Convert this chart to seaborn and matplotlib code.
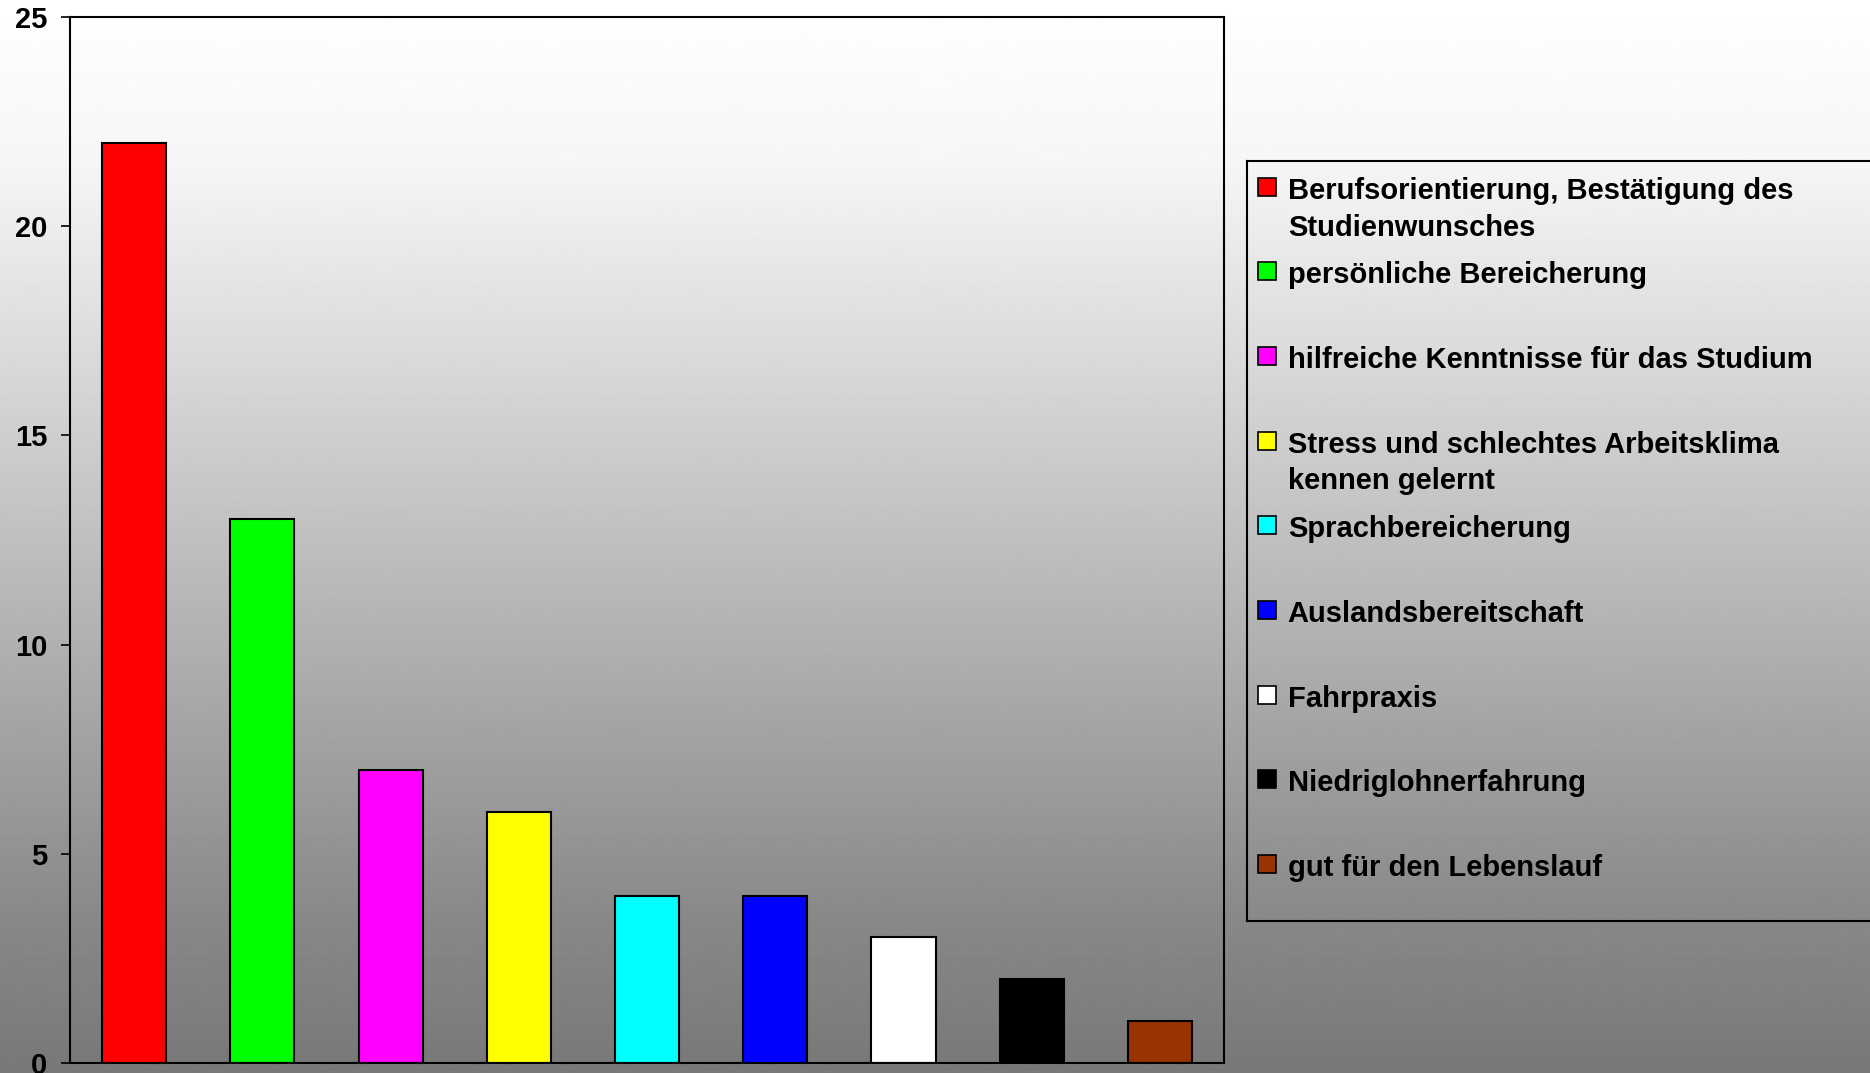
import matplotlib
matplotlib.use("Agg")
import matplotlib.pyplot as plt
import numpy as np
import seaborn as sns
from matplotlib.patches import Rectangle

categories = [
    "Berufsorientierung, Bestätigung des\nStudienwunsches",
    "persönliche Bereicherung",
    "hilfreiche Kenntnisse für das Studium",
    "Stress und schlechtes Arbeitsklima\nkennen gelernt",
    "Sprachbereicherung",
    "Auslandsbereitschaft",
    "Fahrpraxis",
    "Niedriglohnerfahrung",
    "gut für den Lebenslauf",
]
counts = [22, 13, 7, 6, 4, 4, 3, 2, 1]
colors = ["#ff0000", "#00ff00", "#ff00ff", "#ffff00", "#00ffff",
          "#0000ff", "#ffffff", "#000000", "#993300"]
y_ticks = [0, 5, 10, 15, 20, 25]

sns.set_style("ticks")
plt.rcParams['font.family'] = ['Liberation Sans', 'DejaVu Sans']
plt.rcParams['font.weight'] = 'bold'
plt.rcParams['text.color'] = 'black'

W, H = 1870, 1073
fig = plt.figure(figsize=(W / 100, H / 100), dpi=100)

# white -> grey background gradient over the whole figure
bg = fig.add_axes([0, 0, 1, 1], zorder=-10)
t = np.linspace(0, 1, 512)
grey = np.interp(t, [0, 0.15, 0.5, 0.86, 1], [255, 246, 192, 136, 120]) / 255
bg.imshow(grey[:, None], aspect='auto', cmap='gray', vmin=0, vmax=1,
          interpolation='bilinear')
bg.set_axis_off()

# bar chart
ax = fig.add_axes([70 / W, 10 / H, (1224 - 70) / W, (1063 - 17) / H])
ax.set_facecolor('none')
sns.barplot(x=categories, y=counts, hue=categories, palette=colors,
            saturation=1, width=0.5, edgecolor='black', linewidth=1.5,
            legend=False, ax=ax)
ax.set_xlim(-0.5, len(categories) - 0.5)
ax.set_ylim(0, 25)
ax.set_yticks(y_ticks)
ax.set_xticks([])
ax.set_xlabel('')
ax.set_ylabel('')
for s in ax.spines.values():
    s.set_visible(True)
    s.set_color('black')
    s.set_linewidth(1.5)
ax.tick_params(axis='y', length=6.5, width=1.2, pad=10, labelsize=21,
               direction='out', colors='black')

# legend box (manual, to keep even spacing like the original)
lx0, ly_top, ly_bot = 1247, 160.7, 920.7
lw_px = W - lx0 + 10
lh_px = ly_bot - ly_top
lax = fig.add_axes([lx0 / W, (H - ly_bot) / H, lw_px / W, lh_px / H])
lax.set_xlim(0, lw_px)
lax.set_ylim(lh_px, 0)
lax.set_facecolor('none')
lax.set_xticks([])
lax.set_yticks([])
for s in lax.spines.values():
    s.set_visible(True)
    s.set_color('black')
    s.set_linewidth(1.5)

for i, (lab, col) in enumerate(zip(categories, colors)):
    top = 17 + i * 84.65
    lax.add_patch(Rectangle((11, top), 18, 18, facecolor=col,
                            edgecolor='black', linewidth=1.2))
    lax.text(40.7, top - 1, lab, fontsize=21, fontweight='bold',
             color='black', va='top', ha='left', linespacing=1.4)

fig.savefig('out.png', dpi=100)
